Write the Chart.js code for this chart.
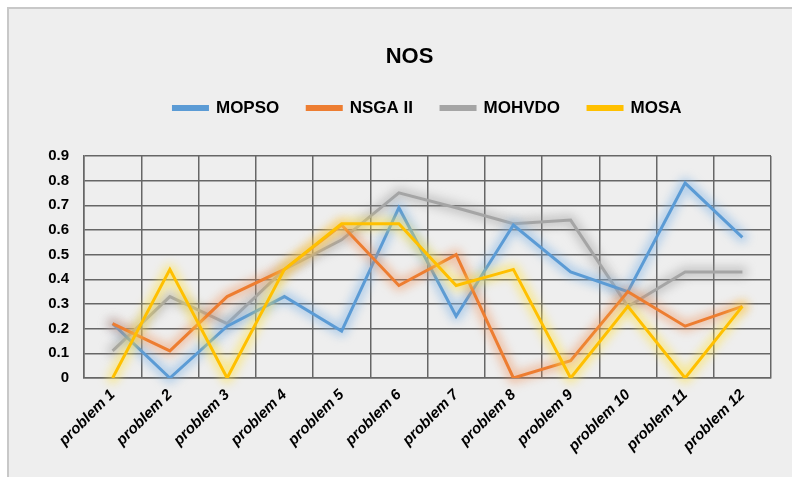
<!DOCTYPE html>
<html>
<head>
<meta charset="utf-8">
<title>NOS</title>
<script src="https://cdn.jsdelivr.net/npm/chart.js@4/dist/chart.umd.min.js"></script>
<style>
  html, body { margin: 0; padding: 0; background: #ffffff; }
  #chartBox { width: 792px; height: 477px; }
</style>
</head>
<body>
<div id="chartBox"><canvas id="nosChart" width="792" height="477"></canvas></div>
<script>
// Problems on the x axis
const categories = ['problem 1', 'problem 2', 'problem 3', 'problem 4', 'problem 5', 'problem 6',
                    'problem 7', 'problem 8', 'problem 9', 'problem 10', 'problem 11', 'problem 12'];

// NOS values per algorithm
const mopso  = [0.22, 0,    0.21, 0.33, 0.19, 0.69, 0.25, 0.62, 0.43, 0.35, 0.79, 0.57];
const nsga2  = [0.22, 0.11, 0.33, 0.44, 0.62, 0.375, 0.5, 0,    0.07, 0.35, 0.21, 0.29];
const mohvdo = [0.11, 0.33, 0.22, 0.44, 0.56, 0.75, 0.69, 0.625, 0.64, 0.29, 0.43, 0.43];
const mosa   = [0,    0.44, 0,    0.44, 0.625, 0.625, 0.375, 0.44, 0, 0.29, 0,    0.29];

// Y axis range
const yTicks = [0, 0.1, 0.2, 0.3, 0.4, 0.5, 0.6, 0.7, 0.8, 0.9];

const FONT = '"Liberation Sans", Arial, sans-serif';

// Grey panel behind the whole chart
const panelBackground = {
    id: 'panelBackground',
    beforeDraw(chart) {
        const ctx = chart.ctx;
        ctx.save();
        ctx.fillStyle = '#ffffff';
        ctx.fillRect(0, 0, chart.width, chart.height);
        ctx.fillStyle = '#eeeeee';
        ctx.fillRect(8, 8, chart.width - 8, chart.height - 8);
        ctx.strokeStyle = '#c8c8c8';
        ctx.lineWidth = 2;
        ctx.beginPath();
        ctx.moveTo(8, chart.height);
        ctx.lineTo(8, 8);
        ctx.lineTo(chart.width, 8);
        ctx.stroke();
        ctx.restore();
    }
};

// Soft coloured glow: a wide blurred stroke under each line
const lineGlow = {
    id: 'lineGlow',
    beforeDatasetDraw(chart, args) {
        const ds = chart.data.datasets[args.index];
        const pts = args.meta.data;
        const ctx = chart.ctx;
        ctx.save();
        ctx.filter = 'blur(5px)';
        ctx.strokeStyle = ds.glowColor;
        ctx.lineWidth = 11;
        ctx.lineJoin = 'round';
        ctx.lineCap = 'round';
        ctx.beginPath();
        pts.forEach((p, i) => i ? ctx.lineTo(p.x, p.y) : ctx.moveTo(p.x, p.y));
        ctx.stroke();
        ctx.restore();
    }
};

function series(label, data, color, glow, order) {
    return {
        label: label,
        data: data,
        borderColor: color,
        backgroundColor: color,
        glowColor: glow,
        borderWidth: 3,
        pointRadius: 0,
        pointHoverRadius: 0,
        tension: 0,
        order: order
    };
}

const ctx = document.getElementById('nosChart');
new Chart(ctx, {
    type: 'line',
    data: {
        labels: categories,
        datasets: [
            series('MOPSO', mopso, '#5b9bd5', 'rgba(120, 175, 230, 0.5)', 3),
            series('NSGA II', nsga2, '#ed7d31', 'rgba(240, 140, 80, 0.45)', 2),
            series('MOHVDO', mohvdo, '#a5a5a5', 'rgba(150, 150, 150, 0.45)', 4),
            series('MOSA', mosa, '#ffc000', 'rgba(255, 225, 70, 0.55)', 1)
        ]
    },
    options: {
        responsive: false,
        animation: false,
        layout: {
            padding: { left: 48, right: 21, top: 0, bottom: 0 }
        },
        plugins: {
            title: {
                display: true,
                text: 'NOS',
                color: '#000000',
                font: { family: FONT, size: 22, weight: 'bold' },
                padding: { top: 44, bottom: 1 }
            },
            legend: {
                display: true,
                position: 'top',
                fullSize: false,
                labels: {
                    color: '#000000',
                    font: { family: FONT, size: 17, weight: 'bold' },
                    boxWidth: 34,
                    boxHeight: 3,
                    padding: 28,
                    sort: (a, b) => a.datasetIndex - b.datasetIndex
                }
            },
            tooltip: { enabled: false }
        },
        scales: {
            x: {
                type: 'category',
                offset: true,
                grid: {
                    offset: true,
                    color: '#666666',
                    lineWidth: 1.5,
                    drawTicks: false
                },
                border: { color: '#666666', width: 1.5 },
                ticks: {
                    color: '#000000',
                    font: { family: FONT, size: 15, weight: 'bold', style: 'italic' },
                    minRotation: 45,
                    maxRotation: 45,
                    autoSkip: false,
                    padding: 8
                },
                afterFit(scale) { scale.height = 99; }
            },
            // spacer between the legend and the plot
            xTop: {
                type: 'category',
                labels: categories,
                position: 'top',
                grid: { display: false, drawTicks: false },
                border: { display: false },
                ticks: { display: false },
                afterFit(scale) { scale.height = 29.5; }
            },
            y: {
                min: yTicks[0],
                max: yTicks[yTicks.length - 1],
                afterBuildTicks(scale) {
                    scale.ticks = yTicks.map(v => ({ value: v }));
                },
                grid: {
                    color: '#666666',
                    lineWidth: 1.5,
                    drawTicks: false
                },
                border: { color: '#666666', width: 1.5 },
                ticks: {
                    color: '#000000',
                    font: { family: FONT, size: 15, weight: 'bold' },
                    padding: 15,
                    callback: v => String(Math.round(v * 10) / 10)
                },
                afterFit(scale) { scale.width = 36; }
            }
        }
    },
    plugins: [panelBackground, lineGlow]
});
</script>
</body>
</html>
